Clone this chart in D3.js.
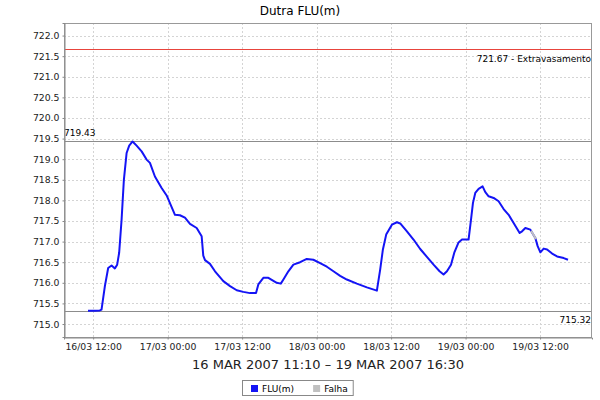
<!DOCTYPE html>
<html><head><meta charset="utf-8">
<script src="https://cdn.jsdelivr.net/npm/d3@7"></script>
<style>
html,body{margin:0;padding:0;background:#fff;}
svg{display:block;font-family:"DejaVu Sans",sans-serif;}
</style></head>
<body><svg id="c" width="600" height="400"></svg>
<script>
// hours since 16/03/2007 00:00
const hours = [11.17,12.27,13.08,13.35,13.89,14.42,14.97,15.50,15.87,16.19,16.58,16.95,17.39,17.81,18.35,19.00,19.81,20.61,21.15,21.95,23.03,23.84,25.18,25.98,26.79,27.60,28.68,29.48,29.74,30.02,30.82,31.63,32.97,34.05,35.13,36.19,37.27,38.24,38.61,39.42,40.23,41.58,42.23,42.65,43.45,44.26,45.34,46.42,47.48,48.56,49.65,50.71,51.79,52.87,54.48,56.10,57.71,58.24,58.68,59.21,60.13,60.94,61.47,62.55,63.61,64.69,65.77,66.84,67.81,68.45,69.00,69.65,70.18,70.87,71.42,72.48,72.87,73.19,73.56,74.10,74.74,75.18,75.71,76.52,77.32,78.13,78.94,79.74,80.71,81.10,81.63,82.44,83.24,83.61,84.05,84.58,85.13,85.94,86.74,87.81,88.50];
const flu = [715.32,715.32,715.33,715.35,715.92,716.36,716.42,716.35,716.44,716.73,717.53,718.50,719.15,719.33,719.43,719.33,719.19,718.99,718.91,718.58,718.30,718.12,717.65,717.64,717.58,717.43,717.33,717.13,716.66,716.55,716.46,716.28,716.04,715.92,715.82,715.78,715.75,715.75,715.96,716.12,716.12,716.00,715.98,716.08,716.28,716.44,716.50,716.58,716.56,716.48,716.39,716.28,716.17,716.08,715.98,715.89,715.81,716.32,716.81,717.17,717.41,717.47,717.44,717.25,717.05,716.82,716.63,716.44,716.28,716.20,716.28,716.44,716.73,716.98,717.05,717.05,717.53,717.94,718.18,718.28,718.34,718.20,718.10,718.06,717.98,717.79,717.65,717.45,717.21,717.25,717.33,717.29,717.09,716.89,716.74,716.83,716.81,716.71,716.64,716.60,716.56];
// gaps (Falha), hours since 16/03 00:00
const falhaStart = [82.55];
const falhaEnd = [83.30];
const markerValues = [721.67, 719.43, 715.32];
const markerLabels = ["721.67 - Extravasamento", "719.43", "715.32"];
const yTicks = [715.0,715.5,716.0,716.5,717.0,717.5,718.0,718.5,719.0,719.5,720.0,720.5,721.0,721.5,722.0];
const xTickHours = [12,24,36,48,60,72,84];
const title = "Dutra FLU(m)";
const xLabel = "16 MAR 2007 11:10 \u2013 19 MAR 2007 16:30";
const seriesNames = ["FLU(m)", "Falha"];

const base = new Date(2007,2,16,0,0);
const toDate = h => new Date(base.getTime() + h*3600000);
const data = hours.map((h,i)=>({t:toDate(h), v:flu[i]}));

const svg = d3.select("#c");
const L=64, R=592, T=23, B=337;
const t0 = toDate(hours[0]).getTime(), t1 = toDate(hours[hours.length-1]).getTime();
const span = t1-t0;
const x = d3.scaleTime().domain([new Date(t0-0.05*span), new Date(t1+0.05*span)]).range([L,R]);
const y = d3.scaleLinear().domain([714.685, 722.305]).range([B,T]);

// title
svg.append("text").attr("x",300).attr("y",15).attr("text-anchor","middle")
  .style("font-size","12px").attr("fill","#000").text(title);

// grid
const g = svg.append("g");
g.selectAll("line.hg").data(yTicks).join("line")
  .attr("x1",L).attr("x2",R).attr("y1",d=>Math.round(y(d))+0.5).attr("y2",d=>Math.round(y(d))+0.5)
  .attr("stroke","#d4d4d4").attr("stroke-dasharray","2,2").attr("stroke-width",1);
g.selectAll("line.vg").data(xTickHours).join("line")
  .attr("y1",T).attr("y2",B).attr("x1",d=>Math.round(x(toDate(d)))+0.5).attr("x2",d=>Math.round(x(toDate(d)))+0.5)
  .attr("stroke","#d4d4d4").attr("stroke-dasharray","2,2").attr("stroke-width",1);

// markers
const mColors = ["#e8443c","#8c8c8c","#8c8c8c"];
svg.selectAll("line.mk").data(markerValues).join("line")
  .attr("x1",L).attr("x2",R).attr("y1",d=>Math.round(y(d))+0.5).attr("y2",d=>Math.round(y(d))+0.5)
  .attr("stroke",(d,i)=>mColors[i]).attr("stroke-width",1);
svg.append("text").attr("x",591).attr("y",y(markerValues[0])+13).attr("text-anchor","end")
  .style("font-size","9px").attr("fill","#000").text(markerLabels[0]);
svg.append("text").attr("x",64).attr("y",y(markerValues[1])-5).attr("text-anchor","start")
  .style("font-size","9px").attr("fill","#000").text(markerLabels[1]);
svg.append("text").attr("x",591).attr("y",y(markerValues[2])+12).attr("text-anchor","end")
  .style("font-size","9px").attr("fill","#000").text(markerLabels[2]);

// line
const line = d3.line().x(d=>x(d.t)).y(d=>y(d.v));
svg.append("path").datum(data).attr("d",line).attr("fill","none")
  .attr("stroke","#1414f5").attr("stroke-width",2).attr("stroke-linejoin","round");
// falha segments
falhaStart.forEach((s,i)=>{
  const seg = data.filter(d=>d.t>=toDate(s) && d.t<=toDate(falhaEnd[i]));
  const interp = h => { const tt=toDate(h); const bis=d3.bisector(d=>d.t).left(data,tt);
    const a=data[bis-1], b=data[bis]; const f=(tt-a.t)/(b.t-a.t); return {t:tt, v:a.v+(b.v-a.v)*f}; };
  const pts = [interp(s), ...seg, interp(falhaEnd[i])];
  svg.append("path").datum(pts).attr("d",line).attr("fill","none")
    .attr("stroke","#c0c0c0").attr("stroke-width",2);
});

// plot border
svg.append("rect").attr("x",L+0.5).attr("y",T+0.5).attr("width",R-L-1).attr("height",B-T)
  .attr("fill","none").attr("stroke","#999").attr("stroke-width",1);

// y axis
const yAxis = d3.axisLeft(y).tickValues(yTicks).tickFormat(d3.format(".1f")).tickSize(2).tickPadding(3);
const ya = svg.append("g").attr("transform",`translate(${L+0.5},0)`).call(yAxis);
ya.select(".domain").attr("stroke","#888");
ya.selectAll(".tick line").attr("stroke","#888");
ya.selectAll("text").style("font-size","9.3px").style("font-family","DejaVu Sans").attr("fill","#222");

// x axis
const fmt = d3.timeFormat("%d/%m %H:%M");
const xAxis = d3.axisBottom(x).tickValues(xTickHours.map(toDate)).tickFormat(fmt).tickSize(2).tickPadding(4);
const xa = svg.append("g").attr("transform",`translate(0,${B+0.5})`).call(xAxis);
xa.select(".domain").attr("stroke","#888");
xa.selectAll(".tick line").attr("stroke","#888");
xa.selectAll("text").style("font-size","9.3px").style("font-family","DejaVu Sans").attr("fill","#222");

svg.append("text").attr("x",(L+R)/2).attr("y",369).attr("text-anchor","middle")
  .style("font-size","13px").attr("fill","#222").text(xLabel);

// legend (laid out from measured text widths)
const lg = svg.append("g");
const box = lg.append("rect").attr("y",380.5).attr("height",15)
  .attr("fill","#fff").attr("stroke","#888");
const lc = ["#1414f5","#c0c0c0"];
let cx = 0;
const items = [];
seriesNames.forEach((n,i)=>{
  const it = lg.append("g");
  it.append("rect").attr("x",0).attr("y",385).attr("width",7).attr("height",7).attr("fill",lc[i]);
  const tx = it.append("text").attr("x",11).attr("y",392).style("font-size","9px").attr("fill","#000").text(n);
  const w = 11 + tx.node().getComputedTextLength();
  items.push({it, w});
});
const padL = 9, padR = 5, gap = 19;
const total = padL + items.reduce((s,d)=>s+d.w,0) + gap*(items.length-1) + padR;
const left = Math.round(297.5 - total/2);
box.attr("x",left+0.5).attr("width",total);
cx = left + padL;
items.forEach(d=>{ d.it.attr("transform",`translate(${cx},0)`); cx += d.w + gap; });
</script></body></html>
